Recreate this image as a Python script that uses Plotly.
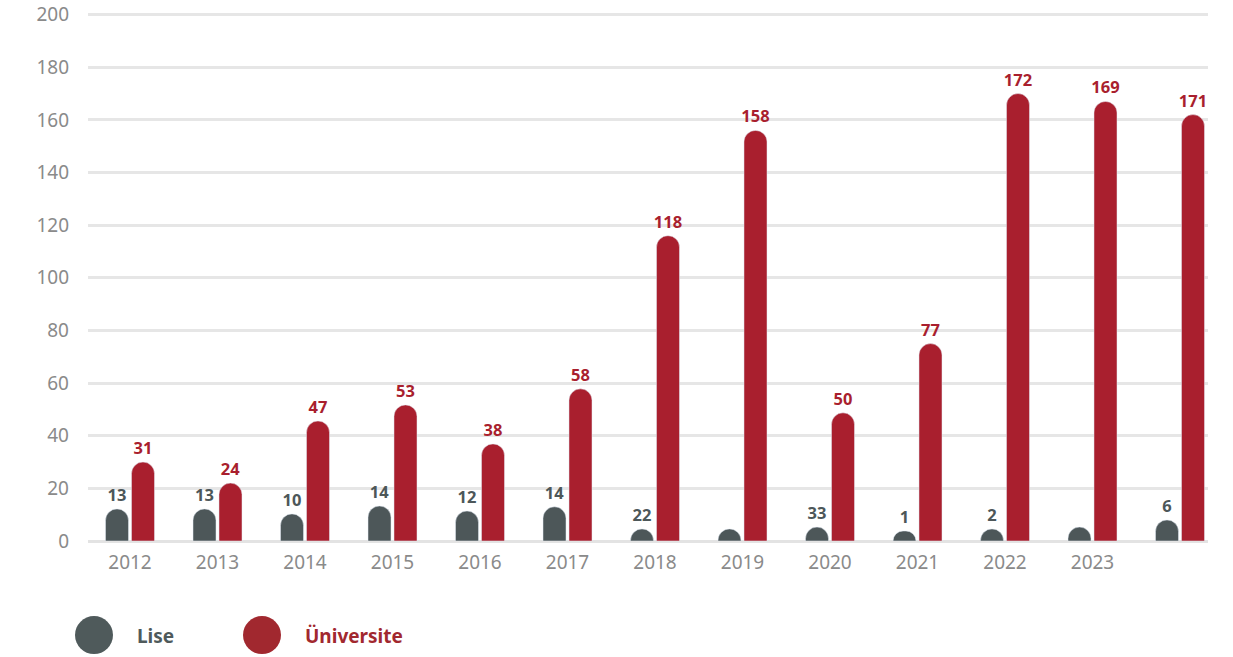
import plotly.graph_objects as go

# Data
years = ["2012", "2013", "2014", "2015", "2016", "2017", "2018", "2019",
         "2020", "2021", "2022", "2023", ""]
# bar heights as drawn
lise_drawn = [12.2, 12.2, 10.3, 13.3, 11.4, 13.0, 4.6, 4.6, 5.3, 3.8, 4.6, 5.3, 8.0]
uni_drawn = [30, 22, 45.6, 51.7, 36.9, 57.8, 116, 156, 48.7, 75, 170, 167, 162]
# value labels as printed
lise_labels = ["13", "13", "10", "14", "12", "14", "22", "", "33", "1", "2", "", "6"]
uni_labels = ["31", "24", "47", "53", "38", "58", "118", "158", "50", "77", "172", "169", "171"]

GRAY = "#4d5759"
RED = "#a91f2e"
TICK = "#8a8a8a"
FONT = "Noto Sans"

x = list(range(len(years)))

fig = go.Figure()
fig.add_trace(go.Bar(
    x=x, y=lise_drawn, name="Lise", marker_color=GRAY,
    width=0.263, offset=-0.28,
    text=lise_labels, textposition="outside", cliponaxis=False,
    constraintext="none",
    textfont=dict(family=FONT, size=16.5, color=GRAY, weight="bold"),
    showlegend=False,
))
fig.add_trace(go.Bar(
    x=x, y=uni_drawn, name="Üniversite", marker_color=RED,
    width=0.263, offset=0.017,
    text=uni_labels, textposition="outside", cliponaxis=False,
    constraintext="none",
    textfont=dict(family=FONT, size=16.5, color=RED, weight="bold"),
    showlegend=False,
))

# page body margin is removed (post_script), so figure pixels = viewport pixels
W, H = 1233, 657
YMAX = 200.6
L = 88
R = W - 1208
B = H - 541
T = 15 - (YMAX - 200) * (526 / 200)
pw = W - L - R
ph = H - T - B


def px_x(p):
    return (p - L) / pw


def px_y(p):
    return (H - B - p) / ph


shapes = []
annotations = []
for cx, col, label, tx in [(94, "#4f5a5b", "Lise", 135), (262, "#a1282f", "Üniversite", 303)]:
    shapes.append(dict(type="circle", xref="paper", yref="paper",
                       xsizemode="pixel", ysizemode="pixel",
                       xanchor=px_x(cx), yanchor=px_y(635),
                       x0=-19, x1=19, y0=-19, y1=19,
                       fillcolor=col, line=dict(width=0)))
    annotations.append(dict(text=label, xref="paper", yref="paper",
                            x=px_x(tx), y=px_y(636), xanchor="left", yanchor="middle",
                            showarrow=False,
                            font=dict(family=FONT, size=19, color=col, weight="bold")))

fig.update_layout(
    width=W, height=H,
    margin=dict(l=L, r=R, t=T, b=B, autoexpand=False),
    paper_bgcolor="white", plot_bgcolor="white",
    barmode="overlay",
    barcornerradius="50%",
    font=dict(family=FONT),
    shapes=shapes, annotations=annotations,
    xaxis=dict(
        range=[-0.48, 12.32], tickvals=x, ticktext=years,
        tickfont=dict(family=FONT, size=19, color=TICK),
        showgrid=False, zeroline=False, showline=False, ticks="",
        automargin=False, ticklabelstandoff=8, ticklabeloverflow="allow",
    ),
    yaxis=dict(
        range=[0, YMAX], dtick=20,
        tickfont=dict(family=FONT, size=19, color=TICK),
        showgrid=True, gridcolor="#e6e6e6", gridwidth=2.5,
        zeroline=True, zerolinecolor="#e3e3e3", zerolinewidth=3,
        ticks="", ticklabelstandoff=18, automargin=False,
        ticklabeloverflow="allow",
    ),
)

fig.write_html("out.html",
               config={"displayModeBar": False},
               post_script="document.body.style.margin='0px';document.body.style.overflow='hidden';")
